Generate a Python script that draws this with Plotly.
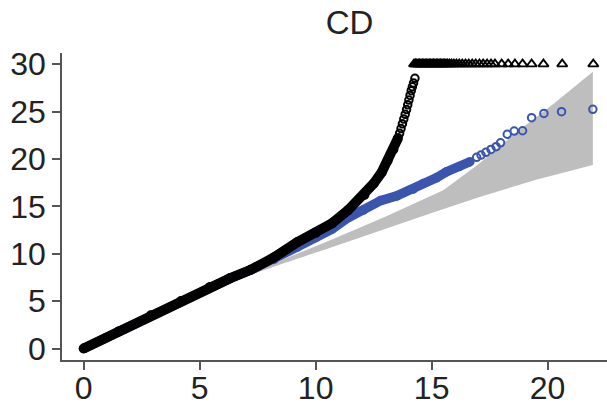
import plotly.graph_objects as go

# Confidence band
band_upper_x = [7.0, 8.5, 10.6, 13.0, 15.5, 17.0, 18.7, 20.3, 21.95]
band_upper_y = [7.6, 9.3, 11.4, 13.9, 16.7, 19.4, 22.9, 25.9, 29.2]
band_lower_x = [7.0, 8.5, 10.6, 13.0, 15.0, 17.1, 19.5, 21.95]
band_lower_y = [7.6, 8.9, 10.6, 12.6, 14.3, 16.0, 17.8, 19.36]

# Black series: dense part and individual top points
black_x = [0, 1.5, 2.9, 4.2, 5.45, 6.3, 7.2, 8.2, 9.2, 10.0, 10.7, 11.4, 12.1, 12.5, 12.85, 13.1, 13.35, 13.55]
black_y = [0, 1.8, 3.5, 5.0, 6.5, 7.4, 8.3, 9.6, 11.2, 12.2, 13.2, 14.6, 16.2, 17.4, 18.6, 19.8, 21.0, 22.2]
black_top_x = [13.62, 13.68, 13.74, 13.8, 13.86, 13.92, 13.97, 14.02, 14.07, 14.12, 14.17, 14.22, 14.28]
black_top_y = [22.7, 23.2, 23.7, 24.2, 24.7, 25.2, 25.7, 26.2, 26.7, 27.2, 27.6, 28.0, 28.5]

# Capped black points (triangles at the ceiling)
capped_x = [14.24, 14.3, 14.36, 14.42, 14.48, 14.54, 14.6, 14.66, 14.72, 14.78, 14.84, 14.9,
            14.96, 15.02, 15.08, 15.14, 15.2, 15.26, 15.32, 15.38, 15.44, 15.5, 15.56, 15.62,
            15.69, 15.77, 15.86, 15.96, 16.07, 16.19, 16.32, 16.46, 16.6, 16.75, 16.9,
            17.06, 17.22, 17.39, 17.56, 17.73, 18.02, 18.3, 18.59, 18.92,
            19.31, 19.82, 20.63, 21.97]
capped_y = [30] * len(capped_x)

# Blue series: dense part and individual top points
blue_x = [0, 1.5, 2.9, 4.2, 5.45, 6.3, 7.2, 8.2, 9.2, 10.0, 10.7, 11.4, 12.05, 12.8, 13.5, 14.2, 14.64, 15.2, 15.65, 16.2, 16.65]
blue_y = [0, 1.8, 3.5, 5.0, 6.5, 7.4, 8.3, 9.4, 10.7, 11.7, 12.6, 13.8, 14.6, 15.6, 16.1, 16.8, 17.4, 18.0, 18.65, 19.2, 19.7]
blue_top_x = [16.94, 17.13, 17.34, 17.56, 17.78, 17.97, 18.26, 18.56, 18.92, 19.31, 19.84, 20.6, 21.95]
blue_top_y = [20.17, 20.41, 20.7, 21.0, 21.29, 21.7, 22.6, 22.94, 22.97, 24.35, 24.8, 24.98, 25.23]

x_ticks = [0, 5, 10, 15, 20]
y_ticks = [0, 5, 10, 15, 20, 25, 30]

BLACK = "#000000"
BLUE = "#3a55ae"
GRAY = "#bebebe"
FONT = "Liberation Sans, Arial, sans-serif"

fig = go.Figure()

fig.add_trace(go.Scatter(
    x=band_upper_x + band_lower_x[::-1],
    y=band_upper_y + band_lower_y[::-1],
    fill="toself", fillcolor=GRAY, mode="lines", line=dict(width=0, color=GRAY),
    hoverinfo="skip", showlegend=False))

fig.add_trace(go.Scatter(
    x=blue_x, y=blue_y, mode="lines+markers",
    line=dict(color=BLUE, width=9.5),
    marker=dict(color=BLUE, size=9.5),
    showlegend=False))
fig.add_trace(go.Scatter(
    x=blue_top_x, y=blue_top_y, mode="markers",
    marker=dict(symbol="circle-open", color=BLUE, size=7.5, line=dict(width=2, color=BLUE)),
    showlegend=False))

fig.add_trace(go.Scatter(
    x=black_x, y=black_y, mode="lines+markers",
    line=dict(color=BLACK, width=10),
    marker=dict(color=BLACK, size=10),
    showlegend=False))
fig.add_trace(go.Scatter(
    x=black_top_x, y=black_top_y, mode="markers",
    marker=dict(symbol="circle-open", color=BLACK, size=7.5, line=dict(width=2, color=BLACK)),
    showlegend=False))
fig.add_trace(go.Scatter(
    x=capped_x, y=capped_y, mode="markers",
    marker=dict(symbol="triangle-up-open", color=BLACK, size=9, line=dict(width=1.8, color=BLACK)),
    showlegend=False))

axis_common = dict(
    showgrid=False, zeroline=False, showline=True, linecolor="#555555", linewidth=1.5,
    ticks="outside", ticklen=8, tickwidth=1.5, tickcolor="#555555", automargin=False,
    tickfont=dict(family=FONT, size=32, color="#222222"),
)

fig.update_layout(
    width=607, height=405,
    margin=dict(l=62, r=0, t=53, b=45),
    paper_bgcolor="white", plot_bgcolor="white",
    title=dict(text="CD", x=0.5275, xref="paper", xanchor="center",
               y=0.944, yref="container", yanchor="middle",
               font=dict(family=FONT, size=33, color="#222222")),
    xaxis=dict(range=[-0.935, 22.56], tickvals=x_ticks, ticktext=[str(v) for v in x_ticks],
               ticklabelstandoff=-9, **axis_common),
    yaxis=dict(range=[-1.21, 31.17], tickvals=y_ticks, ticktext=[str(v) for v in y_ticks], **axis_common),
)

fig.write_html("out.html", config={"displayModeBar": False},
               post_script="document.body.style.margin='0';document.body.style.overflow='hidden';")
